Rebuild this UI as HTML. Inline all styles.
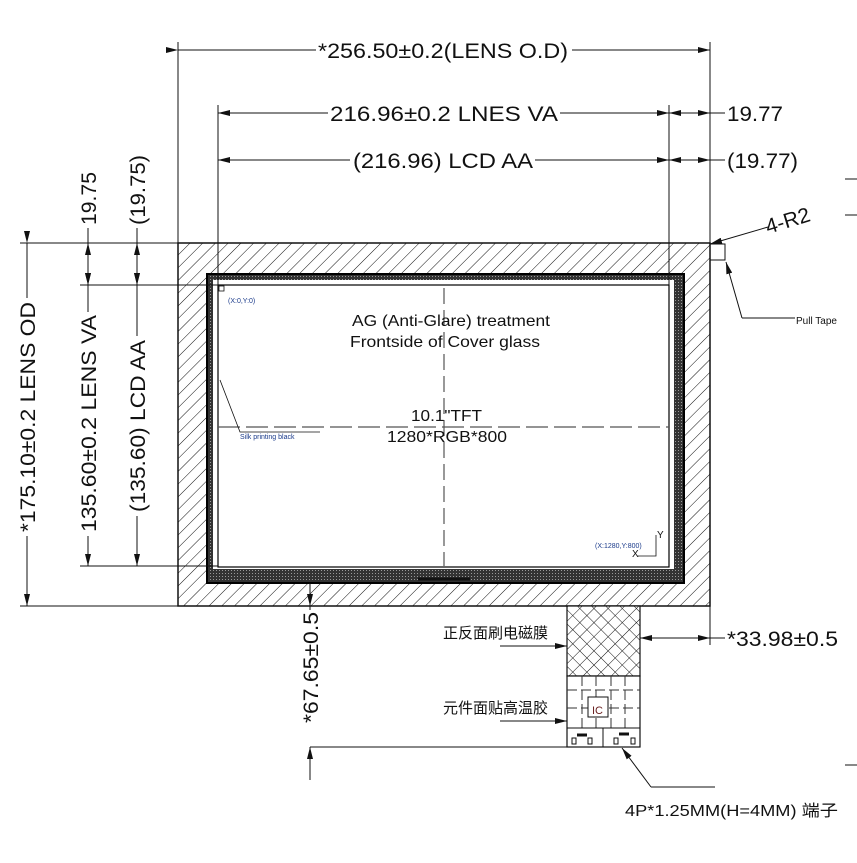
<!DOCTYPE html>
<html><head><meta charset="utf-8"><style>
html,body{margin:0;padding:0;background:#fff;}
svg{display:block;}
text{font-family:"Liberation Sans","Noto Sans CJK SC",sans-serif;fill:#111;}
</style></head><body>
<svg width="857" height="863" viewBox="0 0 857 863" xmlns="http://www.w3.org/2000/svg">
<defs>
<pattern id="hatch" width="9" height="9" patternUnits="userSpaceOnUse" patternTransform="rotate(45)">
<rect width="9" height="9" fill="#fff"/><line x1="0" y1="0" x2="0" y2="9" stroke="#111" stroke-width="1"/>
</pattern>
<pattern id="dark" width="3" height="3" patternUnits="userSpaceOnUse">
<rect width="3" height="3" fill="#333"/><rect width="1" height="1" fill="#999"/>
</pattern>
<pattern id="cross" width="10" height="10" patternUnits="userSpaceOnUse" patternTransform="rotate(45)">
<rect width="10" height="10" fill="#fff"/><line x1="0" y1="0" x2="10" y2="0" stroke="#111"/><line x1="0" y1="0" x2="0" y2="10" stroke="#111"/>
</pattern>
<marker id="ar" markerWidth="12" markerHeight="6" refX="12" refY="3" orient="auto" markerUnits="userSpaceOnUse"><path d="M0,0 L12,3 L0,6z" fill="#111"/></marker>
</defs>
<g stroke="#111" stroke-width="1" fill="none">
<rect x="178" y="243" width="532" height="363" fill="url(#hatch)" stroke-width="1.5"/>
<rect x="207" y="274" width="477" height="309" fill="url(#dark)" stroke="#000" stroke-width="2"/>
<rect x="213" y="280" width="461" height="289" fill="#fff" stroke="none"/>
<rect x="218" y="285" width="451" height="282" fill="#fff" stroke="#000" stroke-width="1.2"/>
<line x1="418" y1="579" x2="470" y2="579" stroke-width="3"/>
<line x1="444" y1="288" x2="444" y2="566" stroke="#555" stroke-dasharray="16,6" stroke-width="1.2"/>
<line x1="218" y1="427" x2="669" y2="427" stroke="#555" stroke-dasharray="22,6" stroke-width="1.2"/>
<line x1="178" y1="243" x2="178" y2="42"/>
<line x1="710" y1="243" x2="710" y2="42"/>
<line x1="218" y1="285" x2="218" y2="105"/>
<line x1="669" y1="285" x2="669" y2="105"/>
<line x1="178" y1="50" x2="316" y2="50" marker-start="url(#ar)"/>
<line x1="572" y1="50" x2="710" y2="50" marker-end="url(#ar)"/>
<line x1="218" y1="113" x2="328" y2="113"/>
<line x1="560" y1="113" x2="669" y2="113"/>
<line x1="648" y1="113" x2="669" y2="113" marker-end="url(#ar)"/>
<line x1="238" y1="113" x2="218" y2="113" marker-end="url(#ar)"/>
<line x1="669" y1="113" x2="725" y2="113"/>
<line x1="690" y1="113" x2="669" y2="113" marker-end="url(#ar)"/>
<line x1="690" y1="113" x2="710" y2="113" marker-end="url(#ar)"/>
<line x1="218" y1="160" x2="350" y2="160"/>
<line x1="535" y1="160" x2="725" y2="160"/>
<line x1="238" y1="160" x2="218" y2="160" marker-end="url(#ar)"/>
<line x1="648" y1="160" x2="669" y2="160" marker-end="url(#ar)"/>
<line x1="690" y1="160" x2="669" y2="160" marker-end="url(#ar)"/>
<line x1="690" y1="160" x2="710" y2="160" marker-end="url(#ar)"/>
<line x1="20" y1="243" x2="178" y2="243"/>
<line x1="80" y1="285" x2="218" y2="285"/>
<line x1="80" y1="566" x2="218" y2="566"/>
<line x1="20" y1="606" x2="178" y2="606"/>
<line x1="27" y1="243" x2="27" y2="298" marker-start="url(#ar)"/>
<line x1="27" y1="536" x2="27" y2="606" marker-end="url(#ar)"/>
<line x1="88" y1="228" x2="88" y2="265"/>
<line x1="88" y1="265" x2="88" y2="243" marker-end="url(#ar)"/>
<line x1="88" y1="265" x2="88" y2="285" marker-end="url(#ar)"/>
<line x1="88" y1="285" x2="88" y2="312" marker-start="url(#ar)"/>
<line x1="88" y1="536" x2="88" y2="566" marker-end="url(#ar)"/>
<line x1="137" y1="228" x2="137" y2="265"/>
<line x1="137" y1="265" x2="137" y2="243" marker-end="url(#ar)"/>
<line x1="137" y1="265" x2="137" y2="285" marker-end="url(#ar)"/>
<line x1="137" y1="285" x2="137" y2="336" marker-start="url(#ar)"/>
<line x1="137" y1="516" x2="137" y2="566" marker-end="url(#ar)"/>
<line x1="310" y1="583" x2="310" y2="606" marker-end="url(#ar)"/>
<line x1="310" y1="606" x2="310" y2="610"/>
<line x1="310" y1="780" x2="310" y2="747" marker-end="url(#ar)"/>
<line x1="310" y1="747" x2="567" y2="747"/>
<rect x="567" y="606" width="73" height="70" fill="url(#cross)" stroke-width="1.2"/>
<rect x="567" y="676" width="73" height="71" fill="#fff" stroke-width="1.2"/>
<g stroke="#333" stroke-dasharray="10,4">
<line x1="567" y1="690" x2="640" y2="690"/><line x1="567" y1="708" x2="640" y2="708"/>
<line x1="582" y1="676" x2="582" y2="728"/><line x1="596" y1="676" x2="596" y2="728"/><line x1="611" y1="676" x2="611" y2="728"/><line x1="625" y1="676" x2="625" y2="728"/>
</g>
<rect x="588" y="697" width="20" height="20" fill="#fff"/>
<line x1="567" y1="728" x2="640" y2="728"/>
<line x1="603" y1="728" x2="603" y2="747"/>
<rect x="572" y="738" width="4" height="6"/><rect x="588" y="738" width="4" height="6"/>
<rect x="614" y="738" width="4" height="6"/><rect x="631" y="738" width="4" height="6"/>
<line x1="577" y1="735" x2="587" y2="735" stroke-width="3"/><line x1="619" y1="734" x2="629" y2="734" stroke-width="3"/>
<line x1="710" y1="606" x2="710" y2="645"/>
<line x1="640" y1="638" x2="725" y2="638"/>
<line x1="660" y1="638" x2="640" y2="638" marker-end="url(#ar)"/>
<line x1="690" y1="638" x2="710" y2="638" marker-end="url(#ar)"/>
<line x1="500" y1="646" x2="567" y2="646" marker-end="url(#ar)"/>
<line x1="500" y1="721" x2="567" y2="721" marker-end="url(#ar)"/>
<line x1="651" y1="787" x2="715" y2="787"/>
<line x1="651" y1="787" x2="622" y2="748" marker-end="url(#ar)"/>
<line x1="768" y1="227" x2="710" y2="244" marker-end="url(#ar)"/>
<rect x="710" y="244" width="15" height="16"/>
<line x1="742" y1="318" x2="795" y2="318"/>
<line x1="742" y1="318" x2="726" y2="262" marker-end="url(#ar)"/>
<polyline points="220,380 240,432 320,432" stroke-width="0.8"/>
<line x1="845" y1="179" x2="857" y2="179"/><line x1="845" y1="215" x2="857" y2="215"/><line x1="845" y1="765" x2="857" y2="765"/>
<polyline points="656,535 656,556 637,556" stroke-width="0.8"/>
<rect x="219" y="286" width="5" height="5" stroke-width="0.8"/>
</g>
<text x="318" y="58" font-size="21" textLength="250" lengthAdjust="spacingAndGlyphs">*256.50±0.2(LENS O.D)</text>
<text x="330" y="121" font-size="21" textLength="228" lengthAdjust="spacingAndGlyphs">216.96±0.2 LNES  VA</text>
<text x="353" y="168" font-size="21" textLength="180" lengthAdjust="spacingAndGlyphs">(216.96) LCD AA</text>
<text x="727" y="121" font-size="21" textLength="56" lengthAdjust="spacingAndGlyphs">19.77</text>
<text x="727" y="168" font-size="21" textLength="71" lengthAdjust="spacingAndGlyphs">(19.77)</text>
<text x="768" y="234" font-size="21" transform="rotate(-17 768 234)">4-R2</text>
<text x="796" y="324" font-size="10">Pull Tape</text>
<text x="352" y="326" font-size="16" textLength="198" lengthAdjust="spacingAndGlyphs">AG (Anti-Glare) treatment</text>
<text x="350" y="347" font-size="16" textLength="190" lengthAdjust="spacingAndGlyphs">Frontside of Cover glass</text>
<text x="411" y="421" font-size="16" textLength="71" lengthAdjust="spacingAndGlyphs">10.1"TFT</text>
<text x="387" y="442" font-size="16" textLength="120" lengthAdjust="spacingAndGlyphs">1280*RGB*800</text>
<text x="240" y="439" font-size="7" font-family="Liberation Mono" style="fill:#1a3a8a">Silk printing black</text>
<text x="228" y="303" font-size="7" style="fill:#1a3a8a">(X:0,Y:0)</text>
<text x="595" y="548" font-size="7" style="fill:#1a3a8a">(X:1280,Y:800)</text>
<text x="657" y="538" font-size="10">Y</text>
<text x="632" y="557" font-size="10">X</text>
<text x="592" y="714" font-size="11" style="fill:#6a2020">IC</text>
<text transform="translate(35,532) rotate(-90)" font-size="21" textLength="230" lengthAdjust="spacingAndGlyphs">*175.10±0.2 LENS OD</text>
<text transform="translate(96,532) rotate(-90)" font-size="21" textLength="217" lengthAdjust="spacingAndGlyphs">135.60±0.2 LENS VA</text>
<text transform="translate(145,512) rotate(-90)" font-size="21" textLength="172" lengthAdjust="spacingAndGlyphs">(135.60) LCD AA</text>
<text transform="translate(96,225) rotate(-90)" font-size="21" textLength="53" lengthAdjust="spacingAndGlyphs">19.75</text>
<text transform="translate(145,225) rotate(-90)" font-size="21" textLength="70" lengthAdjust="spacingAndGlyphs">(19.75)</text>
<text transform="translate(318,723) rotate(-90)" font-size="21" textLength="111" lengthAdjust="spacingAndGlyphs">*67.65±0.5</text>
<text x="727" y="646" font-size="21" textLength="111" lengthAdjust="spacingAndGlyphs">*33.98±0.5</text>
<text x="443" y="638" font-size="15">正反面刷电磁膜</text>
<text x="443" y="713" font-size="15">元件面贴高温胶</text>
<text x="625" y="816" font-size="16" textLength="213" lengthAdjust="spacingAndGlyphs">4P*1.25MM(H=4MM) 端子</text>
</svg>
</body></html>
